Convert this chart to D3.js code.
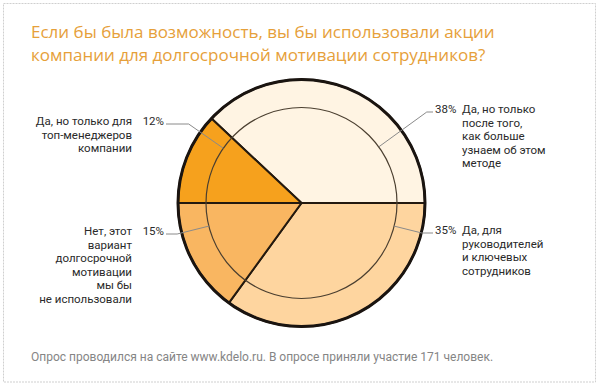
<!DOCTYPE html>
<html>
<head>
<meta charset="utf-8">
<script src="https://cdn.jsdelivr.net/npm/d3@7"></script>
<style>
  body { margin: 0; background: #fff; }
  svg { display: block; }
</style>
</head>
<body>
<svg id="chart"></svg>
<script>
// Data
const titleLines = [
  "Если бы была возможность, вы бы использовали акции",
  "компании для долгосрочной мотивации сотрудников?"
];
const shares = [38, 35, 15, 12];
const answerLines = [
  ["Да, но только", "после того,", "как больше", "узнаем об этом", "методе"],
  ["Да, для", "руководителей", "и ключевых", "сотрудников"],
  ["Нет, этот", "вариант", "долгосрочной", "мотивации", "мы бы", "не использовали"],
  ["Да, но только для", "топ-менеджеров", "компании"]
];
const footnote = "Опрос проводился на сайте www.kdelo.ru. В опросе приняли участие 171 человек.";

// Layout
const W = 600, H = 387;
const cx = 301.5, cy = 203, R = 123.5, rInner = 95.5;
const fills = ["#fff4e3", "#fed59f", "#f9b661", "#f6a11d"];
// where each leader touches the inner ring (degrees clockwise from 12 o'clock) and label baselines
const leaderDeg = [54, 104, 256, 305];
const labelBase = [113, 234, 235, 125];
const lineGap = 13.5;

const svg = d3.select("#chart")
    .attr("width", W)
    .attr("height", H);

// frame
svg.append("rect")
    .attr("x", 3.5).attr("y", 3.5)
    .attr("width", 592).attr("height", 378.5)
    .attr("fill", "#fff")
    .attr("stroke", "#cfcfcf")
    .attr("stroke-width", 1)
    .attr("stroke-dasharray", "2,1");

// title
svg.append("text")
    .attr("x", 31)
    .attr("y", 38)
    .style("font-family", "'Open Sans', sans-serif")
    .style("font-size", "17px")
    .style("fill", "#e6a03a")
    .selectAll("tspan")
    .data(titleLines)
    .enter().append("tspan")
    .attr("x", 31)
    .attr("dy", (d, i) => i ? 23 : 0)
    .text(d => d);

// pie, starting so that the first slice ends at 3 o'clock
const a0 = Math.PI / 2 - shares[0] / 100 * 2 * Math.PI;
const pie = d3.pie().sort(null).value(d => d)
    .startAngle(a0).endAngle(a0 + 2 * Math.PI);
const arcs = pie(shares);

const g = svg.append("g").attr("transform", `translate(${cx},${cy})`);

const arc = d3.arc().innerRadius(0).outerRadius(R);

g.selectAll(".slice")
    .data(arcs)
    .enter().append("path")
    .attr("class", "slice")
    .attr("d", arc)
    .attr("fill", (d, i) => fills[i])
    .attr("stroke", "#23190f")
    .attr("stroke-width", 2)
    .attr("stroke-linejoin", "round");

g.append("circle")
    .attr("r", rInner)
    .attr("fill", "none")
    .attr("stroke", "#4b3f30")
    .attr("stroke-width", 1.2);

g.append("circle")
    .attr("r", R)
    .attr("fill", "none")
    .attr("stroke", "#1a1410")
    .attr("stroke-width", 3);

// leader lines and labels
arcs.forEach((d, i) => {
    const a = leaderDeg[i] * Math.PI / 180;
    const dx = Math.sin(a), dy = -Math.cos(a);
    const right = dx > 0;
    const x0 = cx + rInner * dx, y0 = cy + rInner * dy;
    const lineY = labelBase[i] - 1;
    const t = (lineY - y0) / dy;
    const x1 = x0 + t * dx;
    const pctX = right ? cx + R + 10 : cx - R - 14;
    const x2 = right ? pctX - 2 : pctX + 2;

    svg.append("path")
        .attr("d", d3.line()([[x0, y0], [x1, lineY], [x2, lineY]]))
        .attr("fill", "none")
        .attr("stroke", "#8a8a8a")
        .attr("stroke-width", 1);

    svg.append("text")
        .attr("x", pctX)
        .attr("y", labelBase[i])
        .attr("text-anchor", right ? "start" : "end")
        .style("font-family", "Roboto, sans-serif")
        .style("font-size", "11.5px")
        .style("fill", "#2a2a2a")
        .text(shares[i] + "%");

    const descX = right ? pctX + 27 : pctX - 32;
    svg.append("text")
        .attr("y", labelBase[i])
        .attr("text-anchor", right ? "start" : "end")
        .style("font-family", "Roboto, sans-serif")
        .style("font-size", "11.5px")
        .style("fill", "#2a2a2a")
        .selectAll("tspan")
        .data(answerLines[i])
        .enter().append("tspan")
        .attr("x", descX)
        .attr("dy", (s, j) => j ? lineGap : 0)
        .text(s => s);
});

// footnote
svg.append("text")
    .attr("x", 31)
    .attr("y", 361)
    .style("font-family", "Roboto, sans-serif")
    .style("font-size", "12px")
    .style("fill", "#858585")
    .text(footnote);
</script>
</body>
</html>
